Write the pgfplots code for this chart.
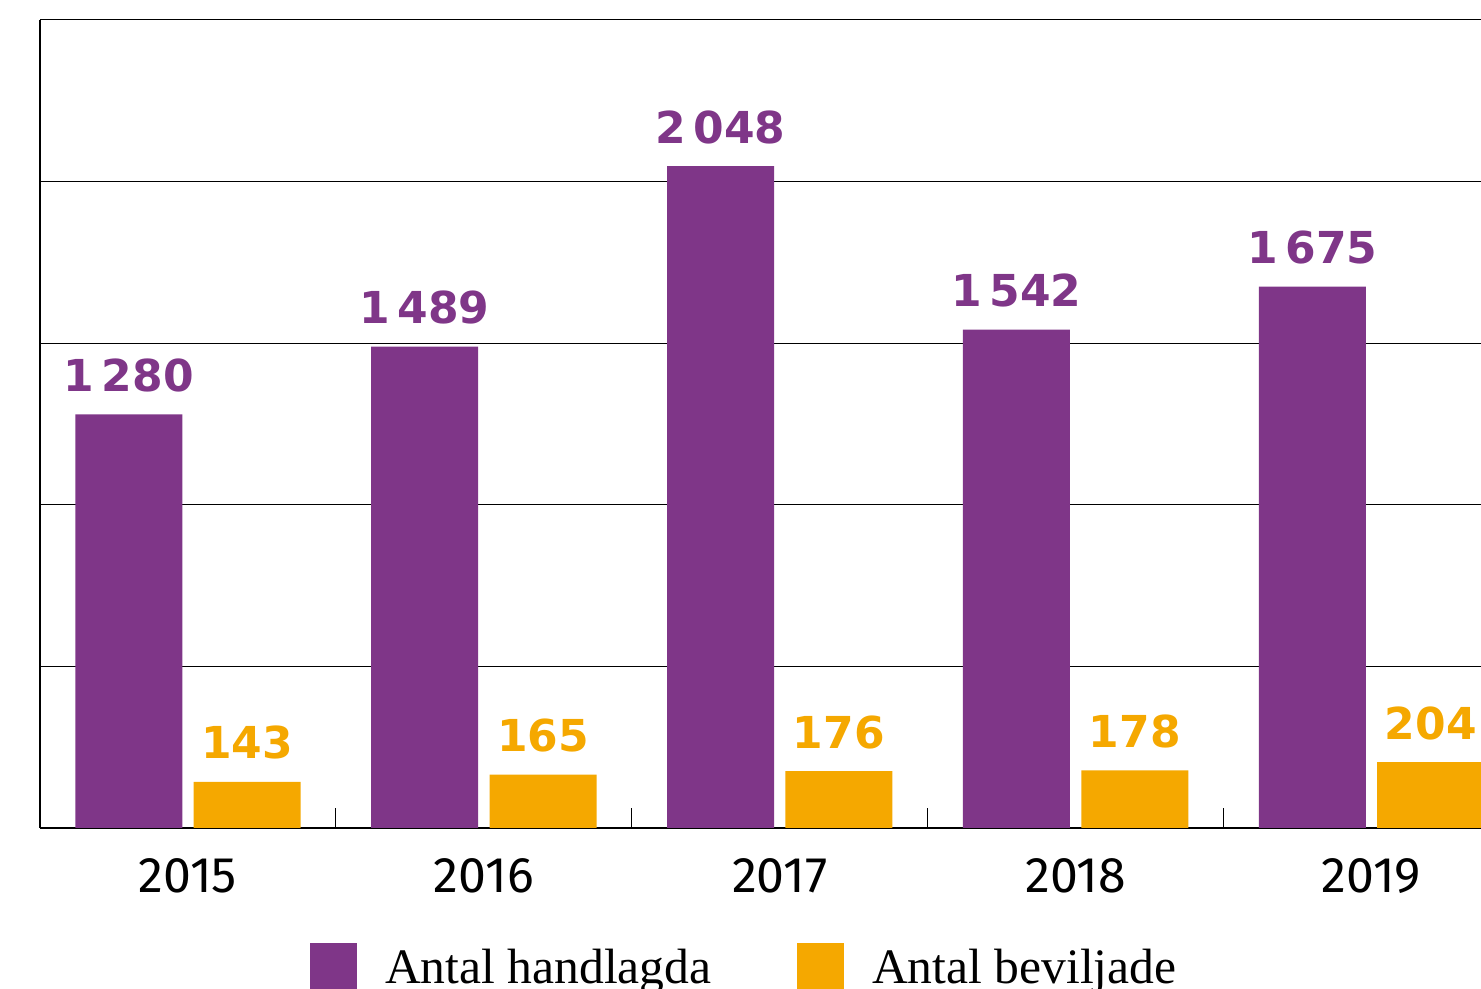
\documentclass[border=0pt]{standalone}
\usepackage{fontspec}
\usepackage{pgfplots}
\pgfplotsset{compat=1.18}
\newfontfamily\numfont{Fira Sans}
\newfontfamily\valfont{DejaVu Sans}
\newfontfamily\legfont{Liberation Serif}
\definecolor{lila}{HTML}{7F3688}
\definecolor{gul}{HTML}{F5A800}
\begin{document}
\begin{tikzpicture}
\begin{axis}[
  at={(20pt,80.5pt)}, anchor=south west,
  scale only axis, width=720.5pt, height=404pt,
  xmin=-0.5, xmax=4.37, ymin=0, ymax=2500,
  axis x line*=bottom, axis y line*=left,
  axis line style={black, line width=0.6pt, -},
  ytick={0,500,...,2500}, yticklabels={}, ymajorgrids,
  grid style={black, line width=0.5pt},
  major tick length=0pt,
  xtick={0,1,2,3,4}, xticklabels={2015,2016,2017,2018,2019},
  minor xtick={0.5,1.5,2.5,3.5},
  minor tick length=10pt,
  minor tick style={black, line width=0.6pt, yshift=10pt},
  xticklabel style={font=\numfont\fontsize{25}{28}\selectfont, inner sep=0pt, yshift=-15pt},
  ybar, bar width=0.3615,
  nodes near coords,
  nodes near coords style={font=\valfont\bfseries\fontsize{22}{26}\selectfont, inner sep=0pt, anchor=south, yshift=11pt},
  /pgf/number format/.cd, 1000 sep={\,}, assume math mode=true,
  /pgfplots/.cd,
  legend columns=2,
  legend style={draw=none, fill=none, inner sep=0pt, at={(0.1874,-0.1708)}, anchor=west,
    font=\legfont\fontsize{24.8}{30}\selectfont,
    nodes={inner sep=0pt},
    /tikz/every odd column/.style={column sep=13.8pt},
    /tikz/every even column/.style={column sep=43pt}},
  legend image code/.code={\fill[#1,draw=none] (0pt,-10.8pt) rectangle (23.5pt,12.7pt);},
]
\addplot[fill=lila, draw=none, bar shift=-0.2, nodes near coords style={text=lila}]
  coordinates {(0,1280) (1,1489) (2,2048) (3,1542) (4,1675)};
\addplot[fill=gul, draw=none, bar shift=0.2, nodes near coords style={text=gul}]
  coordinates {(0,143) (1,165) (2,176) (3,178) (4,204)};
\legend{Antal handlagda, Antal beviljade}
\end{axis}
\pgfresetboundingbox
\path[use as bounding box] (0,0) rectangle (740.5pt,494.5pt);
\end{tikzpicture}
\end{document}
